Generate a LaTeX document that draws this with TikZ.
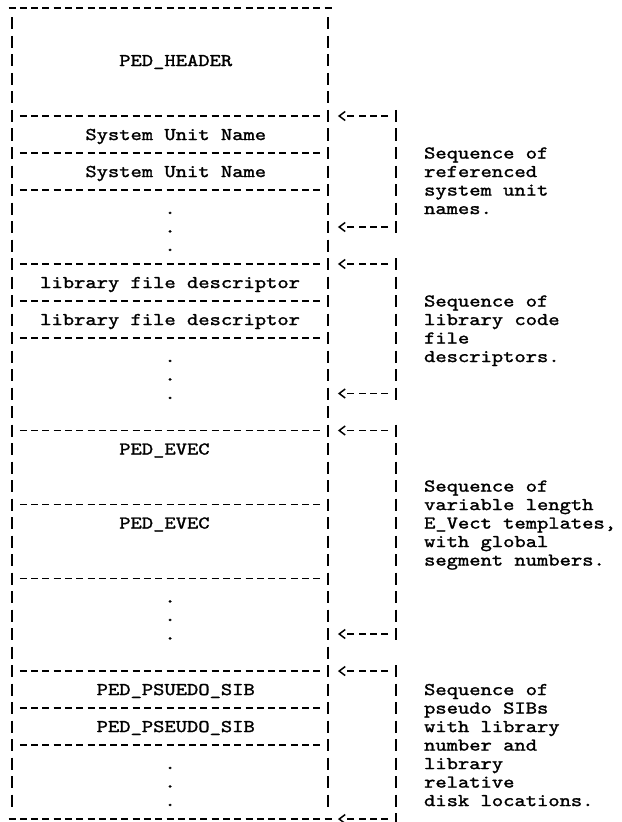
\documentclass[tikz,border=0pt]{standalone}
\usepackage{fontspec}
\usepackage{graphicx}
\usetikzlibrary{arrows.meta}
\newfontfamily\twfont{lmmono10-regular.otf}[FakeBold=1.3]
\newcommand{\tw}[1]{\scalebox{1.195}[1]{\twfont\fontsize{18}{18.5}\selectfont #1}}
\newcommand{\twlines}[1]{\scalebox{1.195}[1]{\twfont\fontsize{18}{18.5}\selectfont\begin{tabular}[t]{@{}l@{}}#1\end{tabular}}}
\tikzset{
  txt/.style={anchor=base west, inner sep=0pt, outer sep=0pt},
  hrule/.style={line width=1.5pt, dash pattern=on 7pt off 4.29pt},
  vrule/.style={line width=1.5pt, dash pattern=on 12pt off 6.5pt},
  conn/.style={line width=1.5pt,
    dash pattern=on 7pt off 4.29pt on 7pt off 4.29pt on 7pt off 4.29pt on 7pt off 40pt,
    -{Straight Barb[length=6pt,width=9pt]}},
}
\begin{document}
\begin{tikzpicture}[x=11.29pt, y=-18.5pt]
\useasboundingbox (-1.063,-0.27) rectangle (53.94,44.16);

% outer box
\draw[hrule] ([xshift=-3.5pt]0,0.15) -- ([xshift=3.5pt]28,0.15);
\draw[hrule] ([xshift=-3.5pt]0,44) -- ([xshift=3.5pt]28,44);
\draw[vrule] ([yshift=6pt]0,1) -- ([yshift=-6pt]0,43);
\draw[vrule] ([yshift=6pt]28,1) -- ([yshift=-6pt]28,43);
% separators
\foreach \r in {6,8,10,14,16,18,23,27,31,36,38,40}
  \draw[hrule] ([xshift=-3.5pt]1,\r) -- ([xshift=3.5pt]27,\r);
% brackets
\foreach \a/\b in {6/12,14/21,23/34,36/44}
  \draw[vrule] ([yshift=6pt]34,\a) -- ([yshift=-6pt]34,\b);
% connectors
\foreach \r in {6,12,14,21,23,34,36,44}{
  \coordinate (src\r) at ([xshift=3.5pt]33,\r);
  \coordinate (dst\r) at (28.87,\r);
  \draw[conn] (src\r) -- (dst\r);
}

% box contents
\node[txt] (hdr) at (9.5,3.3) {\tw{PED\_HEADER}};
\node[txt] (sun1) at (6.5,7.3) {\tw{System Unit Name}};
\node[txt] (sun2) at (6.5,9.3) {\tw{System Unit Name}};
\node[txt] (da1) at (13.5,11.3) {\tw{.}};
\node[txt] (da2) at (13.5,12.3) {\tw{.}};
\node[txt] (da3) at (13.5,13.3) {\tw{.}};
\node[txt] (lfd1) at (2.5,15.3) {\tw{library file descriptor}};
\node[txt] (lfd2) at (2.5,17.3) {\tw{library file descriptor}};
\node[txt] (db1) at (13.5,19.3) {\tw{.}};
\node[txt] (db2) at (13.5,20.3) {\tw{.}};
\node[txt] (db3) at (13.5,21.3) {\tw{.}};
\node[txt] (ev1) at (9.5,24.3) {\tw{PED\_EVEC}};
\node[txt] (ev2) at (9.5,28.3) {\tw{PED\_EVEC}};
\node[txt] (dc1) at (13.5,32.3) {\tw{.}};
\node[txt] (dc2) at (13.5,33.3) {\tw{.}};
\node[txt] (dc3) at (13.5,34.3) {\tw{.}};
\node[txt] (sib1) at (7.5,37.3) {\tw{PED\_PSUEDO\_SIB}};
\node[txt] (sib2) at (7.5,39.3) {\tw{PED\_PSEUDO\_SIB}};
\node[txt] (dd1) at (13.5,41.3) {\tw{.}};
\node[txt] (dd2) at (13.5,42.3) {\tw{.}};
\node[txt] (dd3) at (13.5,43.3) {\tw{.}};

% notes
\node[txt] (note1) at (36.5,8.3) {\twlines{Sequence of\\referenced\\system unit\\names.}};
\node[txt] (note2) at (36.5,16.3) {\twlines{Sequence of\\library code\\file\\descriptors.}};
\node[txt] (note3) at (36.5,26.3) {\twlines{Sequence of\\variable length\\E\_Vect templates,\\with global\\segment numbers.}};
\node[txt] (note4) at (36.5,37.3) {\twlines{Sequence of\\pseudo SIBs\\with library\\number and\\library\\relative\\disk locations.}};
\end{tikzpicture}
\end{document}
